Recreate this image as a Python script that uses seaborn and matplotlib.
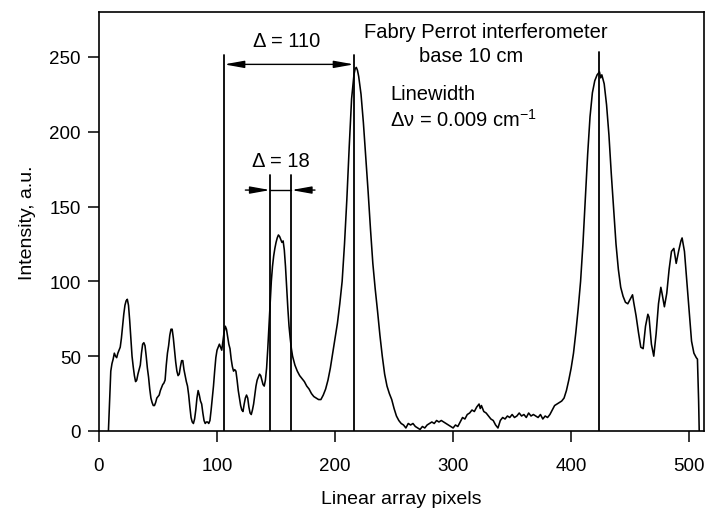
import matplotlib
matplotlib.use("Agg")
import matplotlib.pyplot as plt
import seaborn as sns
import pandas as pd

# Linear-array readout of the Fabry-Perot fringe pattern
pixel = [8, 9, 10, 11, 12, 13, 14, 15, 16, 17, 18, 19, 20, 21, 22, 23, 24, 25, 26, 27,
         28, 29, 30, 31, 32, 33, 34, 35, 36, 37, 38, 39, 40, 41, 42, 43, 44, 45, 46, 47,
         48, 49, 50, 51, 52, 53, 54, 55, 56, 57, 58, 59, 60, 61, 62, 63, 64, 65, 66, 67,
         68, 69, 70, 71, 72, 73, 74, 75, 76, 77, 78, 79, 80, 81, 82, 83, 84, 85, 86, 87,
         88, 89, 90, 91, 92, 93, 94, 95, 96, 97, 98, 99, 100, 101, 102, 103, 104, 105, 106, 107,
         108, 109, 110, 111, 112, 113, 114, 115, 116, 117, 118, 119, 120, 121, 122, 123, 124, 125, 126, 127,
         128, 129, 130, 131, 132, 133, 134, 135, 136, 137, 138, 139, 140, 141, 142, 143, 144, 145, 146, 147,
         148, 149, 150, 151, 152, 153, 154, 155, 156, 157, 158, 159, 160, 161, 162, 163, 164, 165, 166, 167,
         168, 170, 172, 174, 176, 178, 180, 182, 184, 186, 188, 190, 192, 194, 196, 198, 200, 202, 204, 206,
         208, 210, 212, 214, 216, 217, 218, 219, 220, 222, 224, 226, 228, 230, 232, 234, 236, 238, 240, 242,
         244, 246, 248, 250, 252, 254, 256, 258, 260, 262, 264, 266, 268, 270, 272, 274, 276, 278, 280, 282,
         284, 286, 288, 290, 292, 294, 296, 298, 300, 302, 304, 306, 308, 310, 312, 314, 316, 318, 320, 322,
         323, 324, 326, 328, 330, 332, 334, 336, 338, 340, 342, 344, 346, 348, 350, 352, 354, 356, 358, 360,
         362, 364, 366, 368, 370, 372, 374, 376, 378, 380, 382, 384, 386, 388, 390, 392, 394, 396, 398, 400,
         402, 404, 406, 408, 410, 412, 414, 416, 418, 420, 422, 424, 425, 426, 428, 430, 432, 434, 436, 438,
         440, 442, 444, 446, 448, 450, 452, 453, 455, 457, 459, 461, 463, 465, 466, 468, 470, 472, 474, 476,
         477, 479, 481, 483, 485, 487, 489, 491, 493, 494, 496, 498, 500, 502, 504, 506, 507, 508, 508.5]
intensity = [0, 20, 40, 45, 48, 52, 50, 49, 52, 54, 56, 62, 70, 78, 84, 87, 88, 84, 74, 62,
             50, 43, 37, 33, 34, 38, 41, 44, 52, 58, 59, 57, 50, 42, 36, 28, 22, 19, 17, 17,
             19, 22, 23, 24, 27, 29, 31, 32, 34, 44, 52, 57, 64, 68, 68, 62, 54, 46, 40, 37,
             38, 43, 47, 47, 41, 37, 33, 30, 24, 16, 9, 6, 5, 8, 14, 22, 27, 24, 20, 18,
             12, 7, 5, 6, 6, 5, 7, 14, 22, 30, 40, 49, 54, 56, 58, 56, 54, 60, 66, 70,
             68, 63, 58, 55, 48, 43, 40, 41, 40, 34, 27, 22, 17, 14, 13, 18, 22, 24, 22, 16,
             12, 11, 14, 18, 24, 30, 34, 36, 38, 37, 34, 31, 30, 34, 42, 55, 70, 86, 100, 110,
             117, 122, 126, 129, 131, 130, 128, 126, 127, 121, 110, 96, 82, 70, 62, 55, 50, 47, 44, 42,
             40, 37, 35, 33, 30, 28, 25, 23, 22, 21, 21, 24, 28, 34, 42, 52, 62, 72, 85, 100,
             125, 155, 190, 222, 238, 242, 243, 241, 237, 225, 206, 183, 160, 135, 112, 95, 80, 64, 50, 38,
             30, 25, 21, 15, 10, 7, 5, 4, 2, 5, 4, 5, 3, 2, 1, 3, 2, 4, 5, 6,
             5, 7, 6, 7, 6, 5, 4, 3, 2, 4, 3, 6, 9, 8, 11, 12, 14, 13, 16, 18,
             15, 17, 13, 12, 10, 8, 7, 4, 2, 7, 9, 8, 10, 9, 11, 9, 10, 12, 10, 11,
             9, 12, 10, 11, 10, 9, 11, 8, 10, 9, 11, 14, 17, 18, 19, 20, 22, 27, 34, 42,
             52, 66, 82, 100, 125, 155, 185, 210, 226, 234, 238, 240, 236, 238, 232, 218, 198, 172, 148, 125,
             108, 96, 90, 86, 85, 88, 91, 86, 77, 66, 56, 55, 70, 78, 76, 58, 50, 65, 85, 96,
             92, 83, 92, 108, 120, 122, 112, 120, 127, 129, 120, 100, 80, 60, 52, 49, 48, 20, 0]

# Marker positions (pixels)
fsr_edges = [106, 216]
split_edges = [145, 163]
peak_marker = 424

df = pd.DataFrame({"pixel": pixel, "intensity": intensity})

sns.set_theme(style="ticks")
plt.rcParams["font.family"] = ["Liberation Sans", "DejaVu Sans"]
plt.rcParams["mathtext.fontset"] = "custom"
plt.rcParams["mathtext.rm"] = "Liberation Sans"
plt.rcParams["mathtext.it"] = "Liberation Sans:italic"
plt.rcParams["text.color"] = "black"
plt.rcParams["axes.labelcolor"] = "black"
plt.rcParams["xtick.color"] = "black"
plt.rcParams["ytick.color"] = "black"

fig = plt.figure(figsize=(7.07, 5.10), dpi=100)
ax = fig.add_axes([0.140, 0.153, 0.856, 0.8215])

sns.lineplot(data=df, x="pixel", y="intensity", ax=ax, color="black",
             linewidth=1.15, sort=False, estimator=None)

lw_marker = 1.3
for xv in fsr_edges:
    ax.plot([xv, xv], [0, 251], color="black", linewidth=lw_marker)
for xv in split_edges:
    ax.plot([xv, xv], [0, 171], color="black", linewidth=lw_marker)
ax.plot([peak_marker, peak_marker], [0, 253], color="black", linewidth=lw_marker)

annot_size = 14.5

# Free spectral range
ax.annotate("", xy=(fsr_edges[1], 245), xytext=(fsr_edges[0], 245),
            arrowprops=dict(arrowstyle="<|-|>,head_length=1.0,head_width=0.18",
                            color="black", linewidth=1.0, shrinkA=0, shrinkB=0))
ax.text(sum(fsr_edges) / 2 - 2, 261, f"Δ = {fsr_edges[1] - fsr_edges[0]}",
        ha="center", va="center", fontsize=annot_size, color="black")

# Splitting between the two components
ax.plot(split_edges, [161, 161], color="black", linewidth=1.0)
ax.annotate("", xy=(split_edges[0], 161), xytext=(split_edges[0] - 21, 161),
            arrowprops=dict(arrowstyle="-|>,head_length=1.0,head_width=0.18",
                            color="black", linewidth=1.0, shrinkA=0, shrinkB=0))
ax.annotate("", xy=(split_edges[1], 161), xytext=(split_edges[1] + 20, 161),
            arrowprops=dict(arrowstyle="-|>,head_length=1.0,head_width=0.18",
                            color="black", linewidth=1.0, shrinkA=0, shrinkB=0))
ax.text(sum(split_edges) / 2, 181, f"Δ = {split_edges[1] - split_edges[0]}",
        ha="center", va="center", fontsize=annot_size, color="black")

ax.text(224.5, 266.7, "Fabry Perrot interferometer", ha="left", va="center",
        fontsize=annot_size, color="black")
ax.text(271.2, 250.7, "base 10 cm", ha="left", va="center", fontsize=annot_size, color="black")
ax.text(246.6, 225.3, "Linewidth", ha="left", va="center", fontsize=annot_size, color="black")
ax.text(246.6, 208.6, r"Δν = 0.009 cm$^{-1}$", ha="left", va="center",
        fontsize=annot_size, color="black")

ax.set_xlim(0, 512.7)
ax.set_ylim(0, 280)
ax.set_xticks([0, 100, 200, 300, 400, 500])
ax.set_yticks([0, 50, 100, 150, 200, 250])
ax.set_xlabel("Linear array pixels", fontsize=14, labelpad=11, color="black")
ax.set_ylabel("Intensity, a.u.", fontsize=14, labelpad=10, color="black")

for side in ["left", "right", "top", "bottom"]:
    ax.spines[side].set_visible(True)
    ax.spines[side].set_linewidth(1.2)
    ax.spines[side].set_color("black")
ax.tick_params(axis="both", direction="out", length=8, width=1.1, colors="black",
               labelcolor="black", labelsize=13.5)
ax.tick_params(axis="x", pad=11)
ax.tick_params(axis="y", pad=5)

fig.savefig("out.png", dpi=100)
